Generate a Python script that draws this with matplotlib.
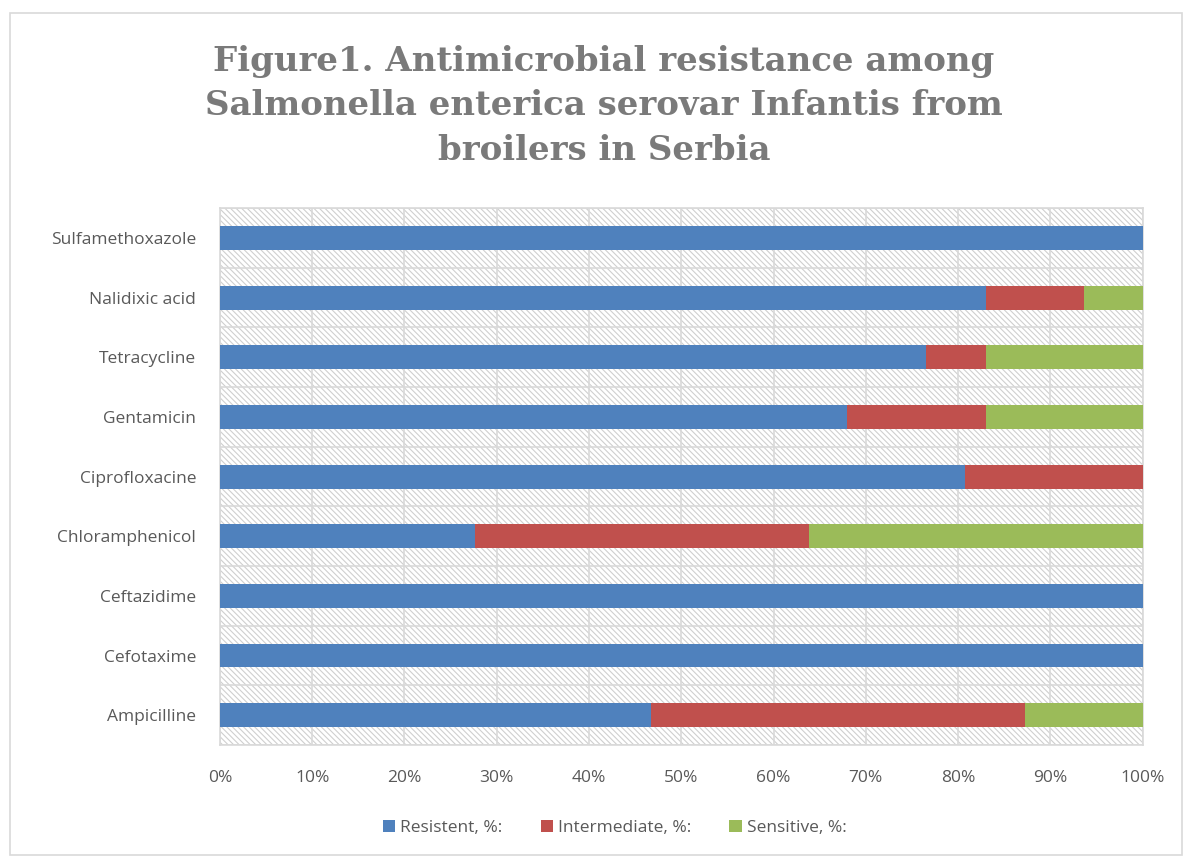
import numpy as np
import matplotlib.pyplot as plt
from matplotlib.patches import Rectangle

antibiotics = ['Ampicilline', 'Cefotaxime', 'Ceftazidime', 'Chloramphenicol',
               'Ciprofloxacine', 'Gentamicin', 'Tetracycline', 'Nalidixic acid',
               'Sulfamethoxazole']
resistent = [46.7, 100, 100, 27.6, 80.8, 68.0, 76.5, 83.0, 100]
intermediate = [40.6, 0, 0, 36.2, 19.2, 15.0, 6.5, 10.6, 0]
sensitive = [12.7, 0, 0, 36.2, 0, 17.0, 17.0, 6.4, 0]
series_names = ['Resistent, %:', 'Intermediate, %:', 'Sensitive, %:']
colors = ['#4f81bd', '#c0504d', '#9bbb59']

plt.rcParams['hatch.color'] = '#cfcfcf'
plt.rcParams['hatch.linewidth'] = 0.8

fig = plt.figure(figsize=(11.89, 8.59), dpi=100)
ax = fig.add_axes([0.185, 0.1327, 0.776, 0.625])

# outer chart border
fig.patches.append(Rectangle((0.008, 0.005), 0.986, 0.98, transform=fig.transFigure,
                             fill=False, edgecolor='#d9d9d9', linewidth=1.2))

n = len(antibiotics)
y = np.arange(n)

# hatched plot area background
ax.add_patch(Rectangle((0, -0.5), 100, n, facecolor='white', hatch='\\' * 6,
                       edgecolor='#cfcfcf', linewidth=0, zorder=0))

left = np.zeros(n)
for vals, name, c in zip([resistent, intermediate, sensitive], series_names, colors):
    ax.barh(y, vals, left=left, height=0.4, color=c, label=name, zorder=3)
    left += np.array(vals)

ax.set_xlim(0, 100)
ax.set_ylim(-0.5, n - 0.5)
ax.set_xticks(np.arange(0, 101, 10))
ax.set_xticklabels([f'{v}%' for v in range(0, 101, 10)])
ax.set_yticks(y)
ax.set_yticklabels(antibiotics)
ax.set_yticks(np.arange(-0.5, n, 1), minor=True)
ax.grid(axis='x', color='#d9d9d9', linewidth=1.2, zorder=1)
ax.grid(axis='y', which='minor', color='#d9d9d9', linewidth=1.2, zorder=1)
ax.grid(axis='y', which='major', visible=False)
ax.tick_params(which='both', length=0)
ax.tick_params(axis='x', pad=18)
ax.tick_params(axis='y', pad=17)
for lbl in ax.get_xticklabels() + ax.get_yticklabels():
    lbl.set_fontsize(12.5)
    lbl.set_color('#595959')
    lbl.set_family('Open Sans')
for s in ax.spines.values():
    s.set_color('#d9d9d9')
    s.set_linewidth(1.2)

fig.text(0.508, 0.948, 'Figure1. Antimicrobial resistance among\n'
         'Salmonella enterica serovar Infantis from\nbroilers in Serbia',
         ha='center', va='top', fontsize=24.5, fontweight='bold', color='#7a7a7a',
         family='DejaVu Serif', linespacing=1.45)

leg = fig.legend(loc='center', bbox_to_anchor=(0.517, 0.036), ncol=3, frameon=False,
                 handlelength=0.7, handleheight=0.7, handletextpad=0.3, columnspacing=2.2,
                 prop={'family': 'Open Sans', 'size': 12.5})
for t in leg.get_texts():
    t.set_color('#595959')

fig.savefig('out.png', dpi=100)
